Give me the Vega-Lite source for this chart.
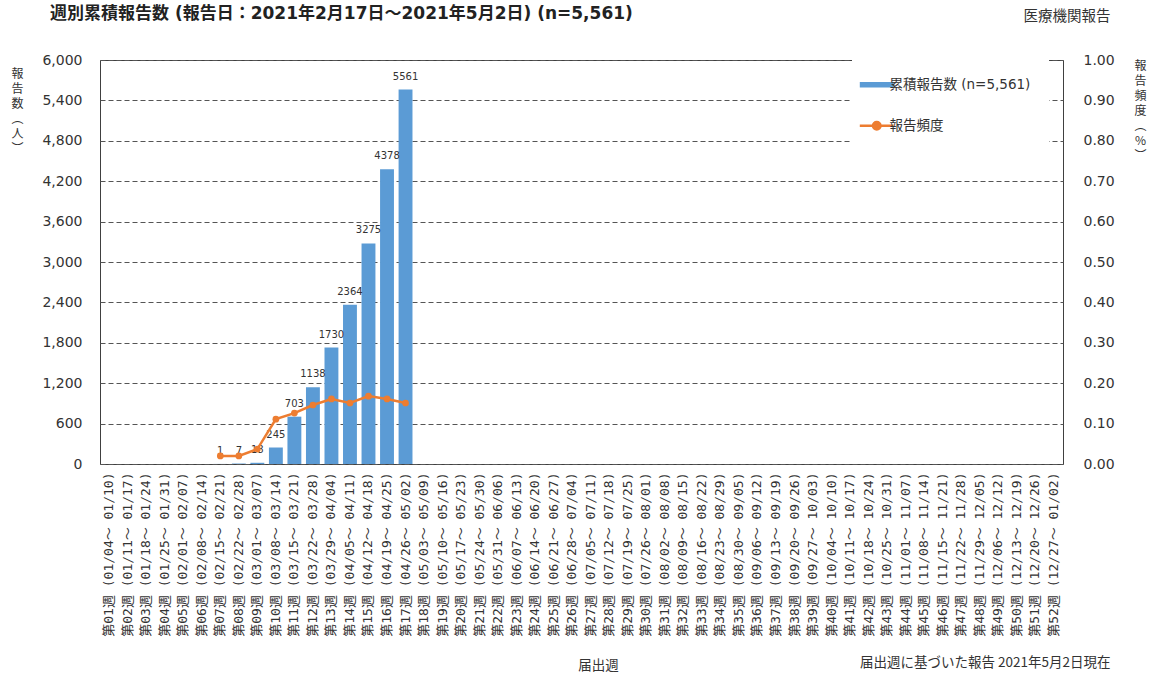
{
  "$schema": "https://vega.github.io/schema/vega-lite/v6.json",
  "width": 963,
  "height": 404,
  "autosize": {"type": "none"},
  "padding": {"left": 100, "top": 60, "right": 88, "bottom": 213},
  "background": "white",
  "title": {
    "text": "週別累積報告数 (報告日：2021年2月17日～2021年5月2日) (n=5,561)",
    "anchor": "start", "frame": "group", "dx": -50, "offset": -15,
    "font": "DejaVu Sans, Noto Sans CJK JP", "fontSize": 17, "fontWeight": "bold", "color": "#222222"
  },
  "config": {
    "view": {"stroke": "#404040", "strokeWidth": 1},
    "mark": {"invalid": "break-paths-show-domains"},
    "axis": {"titleFont": "Noto Sans CJK JP", "titleFontWeight": "normal", "titleColor": "#333333", "labelColor": "#333333"}
  },
  "layer": [
    {
      "data": {"values": [
        {"week": "第01週 (01/04～ 01/10)", "count": null, "freq": null},
        {"week": "第02週 (01/11～ 01/17)", "count": null, "freq": null},
        {"week": "第03週 (01/18～ 01/24)", "count": null, "freq": null},
        {"week": "第04週 (01/25～ 01/31)", "count": null, "freq": null},
        {"week": "第05週 (02/01～ 02/07)", "count": null, "freq": null},
        {"week": "第06週 (02/08～ 02/14)", "count": null, "freq": null},
        {"week": "第07週 (02/15～ 02/21)", "count": 1, "freq": 0.02},
        {"week": "第08週 (02/22～ 02/28)", "count": 7, "freq": 0.02},
        {"week": "第09週 (03/01～ 03/07)", "count": 18, "freq": 0.037},
        {"week": "第10週 (03/08～ 03/14)", "count": 245, "freq": 0.111},
        {"week": "第11週 (03/15～ 03/21)", "count": 703, "freq": 0.126},
        {"week": "第12週 (03/22～ 03/28)", "count": 1138, "freq": 0.146},
        {"week": "第13週 (03/29～ 04/04)", "count": 1730, "freq": 0.161},
        {"week": "第14週 (04/05～ 04/11)", "count": 2364, "freq": 0.151},
        {"week": "第15週 (04/12～ 04/18)", "count": 3275, "freq": 0.168},
        {"week": "第16週 (04/19～ 04/25)", "count": 4378, "freq": 0.161},
        {"week": "第17週 (04/26～ 05/02)", "count": 5561, "freq": 0.151},
        {"week": "第18週 (05/03～ 05/09)", "count": null, "freq": null},
        {"week": "第19週 (05/10～ 05/16)", "count": null, "freq": null},
        {"week": "第20週 (05/17～ 05/23)", "count": null, "freq": null},
        {"week": "第21週 (05/24～ 05/30)", "count": null, "freq": null},
        {"week": "第22週 (05/31～ 06/06)", "count": null, "freq": null},
        {"week": "第23週 (06/07～ 06/13)", "count": null, "freq": null},
        {"week": "第24週 (06/14～ 06/20)", "count": null, "freq": null},
        {"week": "第25週 (06/21～ 06/27)", "count": null, "freq": null},
        {"week": "第26週 (06/28～ 07/04)", "count": null, "freq": null},
        {"week": "第27週 (07/05～ 07/11)", "count": null, "freq": null},
        {"week": "第28週 (07/12～ 07/18)", "count": null, "freq": null},
        {"week": "第29週 (07/19～ 07/25)", "count": null, "freq": null},
        {"week": "第30週 (07/26～ 08/01)", "count": null, "freq": null},
        {"week": "第31週 (08/02～ 08/08)", "count": null, "freq": null},
        {"week": "第32週 (08/09～ 08/15)", "count": null, "freq": null},
        {"week": "第33週 (08/16～ 08/22)", "count": null, "freq": null},
        {"week": "第34週 (08/23～ 08/29)", "count": null, "freq": null},
        {"week": "第35週 (08/30～ 09/05)", "count": null, "freq": null},
        {"week": "第36週 (09/06～ 09/12)", "count": null, "freq": null},
        {"week": "第37週 (09/13～ 09/19)", "count": null, "freq": null},
        {"week": "第38週 (09/20～ 09/26)", "count": null, "freq": null},
        {"week": "第39週 (09/27～ 10/03)", "count": null, "freq": null},
        {"week": "第40週 (10/04～ 10/10)", "count": null, "freq": null},
        {"week": "第41週 (10/11～ 10/17)", "count": null, "freq": null},
        {"week": "第42週 (10/18～ 10/24)", "count": null, "freq": null},
        {"week": "第43週 (10/25～ 10/31)", "count": null, "freq": null},
        {"week": "第44週 (11/01～ 11/07)", "count": null, "freq": null},
        {"week": "第45週 (11/08～ 11/14)", "count": null, "freq": null},
        {"week": "第46週 (11/15～ 11/21)", "count": null, "freq": null},
        {"week": "第47週 (11/22～ 11/28)", "count": null, "freq": null},
        {"week": "第48週 (11/29～ 12/05)", "count": null, "freq": null},
        {"week": "第49週 (12/06～ 12/12)", "count": null, "freq": null},
        {"week": "第50週 (12/13～ 12/19)", "count": null, "freq": null},
        {"week": "第51週 (12/20～ 12/26)", "count": null, "freq": null},
        {"week": "第52週 (12/27～ 01/02)", "count": null, "freq": null}
      ]},
      "encoding": {
        "x": {
          "field": "week", "type": "nominal", "sort": null,
          "scale": {"paddingInner": 0.25, "paddingOuter": 0.12},
          "axis": {
            "labelAngle": -90, "labelFont": "DejaVu Sans Mono, Noto Sans CJK JP", "labelFontSize": 13,
            "labelPadding": 8, "labelLimit": 300, "ticks": false, "domain": false,
            "title": "届出週", "titleFontSize": 13.5, "titleX": 498, "titleY": 201,
            "titleAlign": "center", "titleBaseline": "middle"
          }
        }
      },
      "layer": [
        {
          "encoding": {
            "y": {
              "field": "count", "type": "quantitative",
              "scale": {"domain": [0, 6000]},
              "axis": {
                "values": [0, 600, 1200, 1800, 2400, 3000, 3600, 4200, 4800, 5400, 6000],
                "format": ",d", "grid": true, "gridDash": [5, 3], "gridColor": "#555555",
                "domain": false, "ticks": false, "labelPadding": 18,
                "labelFont": "DejaVu Sans", "labelFontSize": 14,
                "title": ["報", "告", "数", "︵", "人", "︶"],
                "titleAngle": 0, "titleX": -83, "titleY": 8, "titleAlign": "center",
                "titleBaseline": "top", "titleFontSize": 12, "titleLineHeight": 15
              }
            }
          },
          "layer": [
            {
              "mark": {"type": "bar", "color": "#5B9BD5"},
              "encoding": {
                "color": {
                  "datum": "累積報告数 (n=5,561)", "type": "nominal",
                  "scale": {"domain": ["累積報告数 (n=5,561)", "報告頻度"], "range": ["#5B9BD5", "#ED7D31"]},
                  "legend": {
                    "title": null, "orient": "none", "legendX": 752, "legendY": 0,
                    "fillColor": "white", "padding": 18,
                    "labelFont": "DejaVu Sans, Noto Sans CJK JP", "labelFontSize": 13.5, "labelColor": "#333333",
                    "symbolSize": 1150, "rowPadding": 25, "labelOffset": 6,
                    "encode": {
                      "symbols": {
                        "update": {
                          "shape": {"signal": "datum.value === '報告頻度' ? 'M-1,0H1M0.22,0A0.22,0.22 0 1 1 -0.22,0A0.22,0.22 0 1 1 0.22,0' : 'M-1,-0.16H1V0.16H-1Z'"},
                          "fill": {"signal": "datum.value === '報告頻度' ? '#ED7D31' : '#5B9BD5'"},
                          "stroke": {"signal": "datum.value === '報告頻度' ? '#ED7D31' : '#5B9BD5'"},
                          "strokeWidth": {"signal": "datum.value === '報告頻度' ? 2.5 : 0"},
                          "opacity": {"value": 1}
                        }
                      }
                    }
                  }
                }
              }
            },
            {
              "transform": [{"filter": "datum.count != null"}],
              "mark": {"type": "text", "baseline": "bottom", "dy": -8, "fontSize": 10, "font": "DejaVu Sans", "color": "#333333"},
              "encoding": {
                "text": {"field": "count", "type": "quantitative", "format": "d"}
              }
            }
          ]
        },
        {
          "mark": {"type": "line", "color": "#ED7D31", "strokeWidth": 2.5, "point": {"filled": true, "size": 45, "color": "#ED7D31"}},
          "encoding": {
            "y": {
              "field": "freq", "type": "quantitative",
              "scale": {"domain": [0, 1]},
              "axis": {
                "orient": "right", "values": [0, 0.1, 0.2, 0.3, 0.4, 0.5, 0.6, 0.7, 0.8, 0.9, 1],
                "format": ".2f", "grid": false, "domain": false, "ticks": false, "labelPadding": 20,
                "labelFont": "DejaVu Sans", "labelFontSize": 14,
                "title": ["報", "告", "頻", "度", "︵", "%", "︶"],
                "titleAngle": 0, "titleX": 77, "titleY": 0, "titleAlign": "center",
                "titleBaseline": "top", "titleFontSize": 12, "titleLineHeight": 15
              }
            },
            "color": {"datum": "報告頻度", "type": "nominal"}
          }
        }
      ],
      "resolve": {"scale": {"y": "independent"}}
    },
    {
      "data": {"values": [{"h": "医療機関報告"}]},
      "mark": {"type": "text", "text": ""},
      "encoding": {
        "x": {
          "field": "h", "type": "nominal",
          "axis": {
            "orient": "top", "labels": false, "ticks": false, "domain": false, "grid": false,
            "title": "医療機関報告", "titleX": 1010, "titleY": -44, "titleAlign": "right",
            "titleBaseline": "middle", "titleFontSize": 14.5
          }
        }
      }
    },
    {
      "data": {"values": [{"h": "届出週に基づいた報告 2021年5月2日現在"}]},
      "mark": {"type": "text", "text": ""},
      "encoding": {
        "x": {
          "field": "h", "type": "nominal",
          "axis": {
            "orient": "bottom", "labels": false, "ticks": false, "domain": false, "grid": false,
            "title": "届出週に基づいた報告 2021年5月2日現在", "titleX": 1010, "titleY": 198,
            "titleAlign": "right", "titleBaseline": "middle", "titleFontSize": 13.5
          }
        }
      }
    }
  ],
  "resolve": {"scale": {"x": "independent", "y": "independent"}}
}
